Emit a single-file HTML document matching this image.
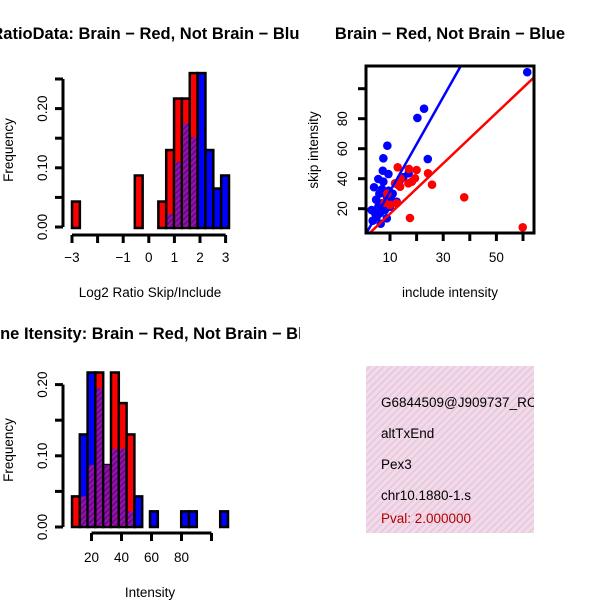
<!DOCTYPE html>
<html><head><meta charset="utf-8"><style>
html,body{margin:0;padding:0;background:#fff;}
svg{display:block;font-family:"Liberation Sans",Arial,sans-serif;}
</style></head><body>
<svg id="chart" width="600" height="600" viewBox="0 0 600 600">
<defs>
<pattern id="hatch" patternUnits="userSpaceOnUse" width="4" height="4" patternTransform="rotate(45)">
<rect width="4" height="4" fill="#9a10b8"/><rect width="2" height="4" fill="#6a0c80"/></pattern>
<pattern id="pinkhatch" patternUnits="userSpaceOnUse" width="5" height="5" patternTransform="rotate(45)">
<rect width="5" height="5" fill="#f6d6f0"/><rect width="1.5" height="5" fill="#dcd0cc"/></pattern>
<clipPath id="c1"><rect x="0" y="0" width="300" height="300"/></clipPath>
<clipPath id="c3"><rect x="0" y="300" width="300" height="300"/></clipPath>
<clipPath id="c4"><rect x="366" y="366" width="168" height="168"/></clipPath>
<clipPath id="c2"><rect x="366" y="66" width="168" height="167"/></clipPath>
</defs>
<g id="p1"></g>
<g id="p2"></g>
<g id="p3"></g>
<g id="p4">
<rect x="366" y="366" width="168" height="167" fill="url(#pinkhatch)"/>
<g clip-path="url(#c4)" font-size="13.5">
<text x="381" y="407">G6844509@J909737_RC</text>
<text x="381" y="438">altTxEnd</text>
<text x="381" y="469">Pex3</text>
<text x="381" y="500">chr10.1880-1.s</text>
<text x="381" y="523" fill="#b00000">Pval: 2.000000</text>
</g></g>
</svg>
<script>
// ---- Panel 1 data ----
const h1Red  = [0.043,0,0,0,0,0,0,0,0.087,0,0,0.043,0.13,0.217,0.217,0.26,0,0,0,0];
const h1Blue = [0,0,0,0,0,0,0,0,0,0,0,0,0.022,0.11,0.175,0.152,0.26,0.13,0.065,0.087];
const h1XTicks = [-3,-2,-1,0,1,2,3];
const h1XLabels = ["-3","","-1","0","1","2","3"];
const h1YTicks = [0,0.05,0.10,0.15,0.20,0.25];
const h1YLabels = ["0.00","","0.10","","0.20",""];
// ---- Panel 3 data ----
const h3Red  = [0.043,0.043,0.087,0.217,0.087,0.217,0.174,0.13,0,0,0,0,0,0,0,0,0,0,0,0];
const h3Blue = [0,0.13,0.217,0.195,0.087,0.11,0.11,0.022,0.043,0,0.022,0,0,0,0.022,0.022,0,0,0,0.022];
const h3XTicks = [20,40,60,80,100];
const h3XLabels = ["20","40","60","80",""];
const h3YTicks = [0,0.05,0.10,0.15,0.20];
const h3YLabels = ["0.00","","0.10","","0.20"];
// ---- Panel 2 data ----
const blueX = [61.6,22.8,20.3,9,7.5,24.2,7.3,9.4,5.6,4,17,13.8,13.1,3.1,5,12.5,6.9,8.1,8.8,6.2,10,7.5,10.6,5.6,4.4,8.8,6,7,9.5,4.8,11,15,3.5,6.5];
const blueY = [111,86.7,80.5,62,53.6,53.1,45.3,43.1,39.8,34.3,43.6,39.1,35.8,19.1,14.7,24.7,23.6,19.1,28,17,21.3,38,25.8,21.3,17,13.6,30,33,32,26,30,41,12,10];
const redX = [59.9,37.9,17.5,25.8,24.3,12.9,17.1,20,19.4,16.9,13.8,11.9,12.5,10,18.2,14,9,8];
const redY = [7.6,27.6,13.8,36,43.6,47.6,46.5,45.8,40.3,36.9,34.7,36.9,23.6,22.5,38,40,30,24];
const blueFit = [0.2,3.14];
const redFit = [-0.2,1.68];
const scXTicks = [10,20,30,40,50,60];
const scXLabels = ["10","","30","","50",""];
const scYTicks = [20,40,60,80,100];
const scYLabels = ["20","40","60","80",""];

const NS="http://www.w3.org/2000/svg";
const FS=13.5;
function mk(parent,tag,attrs,txt){const e=document.createElementNS(NS,tag);for(const k in attrs)e.setAttribute(k,attrs[k]);if(txt!==undefined)e.textContent=txt;parent.appendChild(e);return e;}

function hist(g,red,blue,x0,bw,yScale,base){
  for(let i=0;i<red.length;i++){
    const r=red[i],b=blue[i];if(r===0&&b===0)continue;
    const x=x0+i*bw, mx=Math.max(r,b), mn=Math.min(r,b);
    const bar=mk(g,'rect',{x:x,y:yScale(mx),width:bw,height:base-yScale(mx),fill:r>=b?'#ff0000':'#0000ff',stroke:'#000','stroke-width':2.5});
    
    
    if(mn>0){const o=mk(g,'rect',{x:x+1.2,y:yScale(mn),width:bw-2.4,height:base-yScale(mn)-1.2,fill:'url(#hatch)'});
      
      }
  }
}
function yAxis(g,ticks,labels,ys,x,lx){
  const l=mk(g,'line',{x1:x,x2:x,y1:ys(ticks[ticks.length-1]),y2:ys(ticks[0]),stroke:'#000','stroke-width':3});
  
  ticks.forEach((t,i)=>{mk(g,'line',{x1:x-8,x2:x,y1:ys(t),y2:ys(t),stroke:'#000','stroke-width':3});
    if(labels[i]){const tx=mk(g,'text',{x:lx,y:ys(t),'font-size':FS,'text-anchor':'middle',transform:`rotate(-90 ${lx} ${ys(t)})`},labels[i]);
      }});
}
function xAxis(g,ticks,labels,xs,y,ly){
  const l=mk(g,'line',{x1:xs(ticks[0]),x2:xs(ticks[ticks.length-1]),y1:y,y2:y,stroke:'#000','stroke-width':3});
  
  ticks.forEach((t,i)=>{mk(g,'line',{x1:xs(t),x2:xs(t),y1:y,y2:y+8,stroke:'#000','stroke-width':3});
    if(labels[i]){const tx=mk(g,'text',{x:xs(t),y:ly,'font-size':FS,'text-anchor':'middle'},labels[i].replace('-','\u2212'));
      }});
}
function label(g,txt,x,y,name,rot,bold,size){
  const t=mk(g,'text',{x:x,y:y,'font-size':size||FS,'text-anchor':'middle','font-weight':bold?'bold':'normal'},txt);
  if(rot)t.setAttribute('transform',`rotate(-90 ${x} ${y})`);
  return t;
}

// Panel 1
{const g=document.getElementById('p1');
 const xs=v=>72+(v+3)*25.6, ys=v=>227-v*592;
 const c=mk(g,'g',{'clip-path':'url(#c1)'});
 label(c,'RatioData: Brain \u2212 Red, Not Brain \u2212 Blue',150,39,'panel1-title',false,true,16.5);
 hist(g,h1Red,h1Blue,72,7.85,ys,228);
 yAxis(g,h1YTicks,h1YLabels,ys,63,47);
 xAxis(g,h1XTicks,h1XLabels,xs,235,262);
 label(g,'Frequency',13,150,'y-axis-title',true);
 label(g,'Log2 Ratio Skip/Include',150,297,'x-axis-title');}
// Panel 3
{const g=document.getElementById('p3');
 const xs=v=>91.5+(v-20)*1.5, ys=v=>527-v*712;
 const c=mk(g,'g',{'clip-path':'url(#c3)'});
 label(c,'Gene Itensity: Brain \u2212 Red, Not Brain \u2212 Blue',150,339,'panel3-title',false,true,16.5);
 hist(g,h3Red,h3Blue,72,7.8,ys,527);
 yAxis(g,h3YTicks,h3YLabels,ys,63,47);
 xAxis(g,h3XTicks,h3XLabels,xs,533,562);
 label(g,'Frequency',13,450,'y-axis-title',true);
 label(g,'Intensity',150,597,'x-axis-title');}
// Panel 2
{const g=document.getElementById('p2');
 const xs=v=>363.4+v*2.66, ys=v=>238.7-v*1.5;
 label(g,'Brain \u2212 Red, Not Brain \u2212 Blue',450,39,'panel2-title',false,true,16.5);
 const c=mk(g,'g',{'clip-path':'url(#c2)'});
 blueX.forEach((x,i)=>{const p=mk(c,'circle',{cx:xs(x),cy:ys(blueY[i]),r:4.3,fill:'#0000ff'});
   });
 redX.forEach((x,i)=>{const p=mk(c,'circle',{cx:xs(x),cy:ys(redY[i]),r:4.3,fill:'#ff0000'});
   });
 const bl=mk(c,'line',{x1:xs(0),y1:ys(blueFit[0]),x2:xs(70),y2:ys(blueFit[0]+blueFit[1]*70),stroke:'#0000ff','stroke-width':2.5});
 
 const rl=mk(c,'line',{x1:xs(0),y1:ys(redFit[0]),x2:xs(70),y2:ys(redFit[0]+redFit[1]*70),stroke:'#ff0000','stroke-width':2.5});
 
 const box=mk(g,'rect',{x:366,y:66,width:168,height:167,fill:'none',stroke:'#000','stroke-width':3});
 
 scXTicks.forEach((t,i)=>{mk(g,'line',{x1:xs(t),x2:xs(t),y1:233,y2:241,stroke:'#000','stroke-width':3});
   if(scXLabels[i]){const tx=mk(g,'text',{x:xs(t),y:262,'font-size':FS,'text-anchor':'middle'},scXLabels[i]);
   }});
 scYTicks.forEach((t,i)=>{mk(g,'line',{x1:358,x2:366,y1:ys(t),y2:ys(t),stroke:'#000','stroke-width':3});
   if(scYLabels[i]){const tx=mk(g,'text',{x:347,y:ys(t),'font-size':FS,'text-anchor':'middle',transform:`rotate(-90 347 ${ys(t)})`},scYLabels[i]);
   }});
 label(g,'skip intensity',318,150,'y-axis-title',true);
 label(g,'include intensity',450,297,'x-axis-title');}
</script>
</body></html>
